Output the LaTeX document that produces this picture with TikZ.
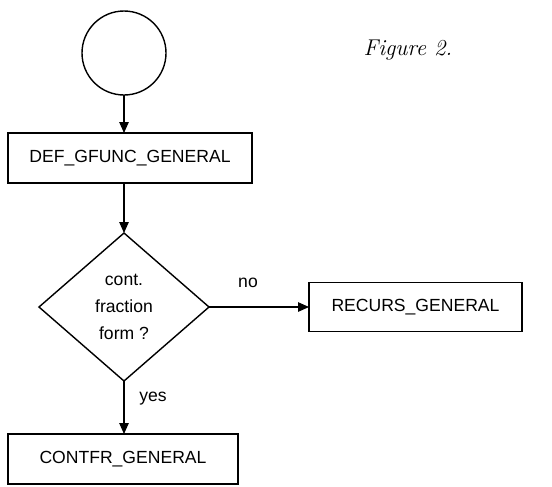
\documentclass[tikz,border=0pt]{standalone}
\usepackage{fontspec}
\setsansfont{Liberation Sans}
\usetikzlibrary{arrows.meta,positioning,shapes.geometric}
\tikzset{
  flowbox/.style={draw, line width=0.8pt, rectangle, minimum height=1.0cm,
                  inner sep=0pt, outer sep=0pt, align=center,
                  font=\sffamily\fontsize{10}{12}\selectfont},
  startcircle/.style={draw, circle, line width=0.8pt, minimum size=1.68cm,
                      inner sep=0pt, outer sep=0pt},
  decision/.style={draw, diamond, line width=0.8pt, minimum width=3.4cm,
                   minimum height=2.96cm, inner sep=0pt, outer sep=0pt,
                   align=center, font=\sffamily\fontsize{10}{15.3}\selectfont},
  arrow/.style={-{Triangle[length=2.2mm,width=1.9mm]}, line width=0.7pt},
  branch/.style={inner sep=0pt, font=\sffamily\fontsize{10}{12}\selectfont}
}
\begin{document}
\begin{tikzpicture}
  \useasboundingbox (0,0) rectangle (11.04,-9.72);
  \node[startcircle] (start) at (2.48,-1.06) {};
  \node[flowbox, minimum width=4.88cm, below=0.76cm of start, xshift=0.12cm] (gfunc) {DEF\_GFUNC\_GENERAL};
  \node[decision, below=1.0cm of gfunc, xshift=-0.12cm] (test) {cont.\\fraction\\form ?};
  \node[flowbox, minimum width=4.26cm, minimum height=0.98cm, right=2.0cm of test] (recurs) {RECURS\_GENERAL};
  \node[flowbox, minimum width=4.6cm, below=1.06cm of test, xshift=-0.02cm] (contfr) {CONTFR\_GENERAL};
  \node[font=\itshape\fontsize{13}{15}\selectfont] (caption) at (8.16,-1.0) {Figure 2.};
  \draw[arrow] (start) -- (start |- gfunc.north);
  \draw[arrow] (gfunc.south -| test.north) -- (test.north);
  \draw[arrow] (test.east) -- (recurs.west) node[branch, pos=0.39, yshift=0.48cm] {no};
  \draw[arrow] (test.south) -- (test.south |- contfr.north) node[branch, pos=0.34, xshift=0.58cm] {yes};
\end{tikzpicture}
\end{document}
